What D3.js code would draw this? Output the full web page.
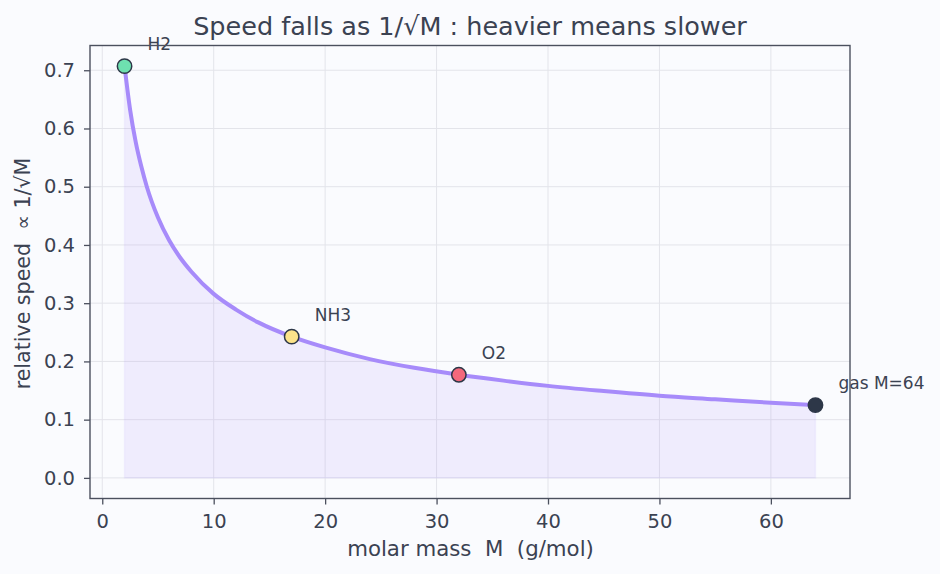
<!DOCTYPE html>
<html><head><meta charset="utf-8">
<script src="https://cdn.jsdelivr.net/npm/d3@7"></script>
<style>body{margin:0;background:#fafbfe;}svg{display:block;font-family:"DejaVu Sans",sans-serif;}text{white-space:pre;}</style>
</head><body><svg id="c" width="940" height="574"></svg>
<script>
// curve samples: molar mass vs relative speed
const curveM = [2, 2.5, 3, 3.5, 4, 5, 6, 7, 8, 10, 12, 14, 17, 20, 24, 28, 32, 36, 40, 45, 50, 55, 60, 64];
const curveV = [0.707, 0.632, 0.577, 0.535, 0.5, 0.447, 0.408, 0.378, 0.354, 0.316, 0.289, 0.267, 0.2425, 0.224, 0.204, 0.189, 0.177, 0.167, 0.158, 0.149, 0.141, 0.135, 0.129, 0.125];
// labelled gases
const gasNames = ["H2", "NH3", "O2", "gas M=64"];
const gasM = [2, 17, 32, 64];
const gasV = [0.707, 0.2425, 0.177, 0.125];
const gasColors = ["#6ee0b0", "#fce38a", "#f3687c", "#2d3748"];
const xTicks = [0, 10, 20, 30, 40, 50, 60];
const yTicks = [0.0, 0.1, 0.2, 0.3, 0.4, 0.5, 0.6, 0.7];

const svg = d3.select("#c");
const L = 90, R = 850, T = 45.5, B = 498.5;
const x = d3.scaleLinear().domain([-1.1, 67.1]).range([L, R]);
const y = d3.scaleLinear().domain([-0.0354, 0.7425]).range([B, T]);
const ink = "#3b4252";

// grid
const g = svg.append("g");
g.selectAll(".gx").data(xTicks).join("line")
  .attr("x1", d => x(d)).attr("x2", d => x(d)).attr("y1", T).attr("y2", B)
  .attr("stroke", "#e3e4ea").attr("stroke-width", 1);
g.selectAll(".gy").data(yTicks).join("line")
  .attr("y1", d => y(d)).attr("y2", d => y(d)).attr("x1", L).attr("x2", R)
  .attr("stroke", "#e3e4ea").attr("stroke-width", 1);

const pts = curveM.map((m, i) => [m, curveV[i]]);
// area
svg.append("path").datum(pts)
  .attr("d", d3.area().x(d => x(d[0])).y0(y(0)).y1(d => y(d[1])).curve(d3.curveMonotoneX))
  .attr("fill", "#a78bfa").attr("fill-opacity", 0.13)
  .attr("stroke", "#a78bfa").attr("stroke-opacity", 0.08).attr("stroke-width", 1.5);
// line
svg.append("path").datum(pts)
  .attr("d", d3.line().x(d => x(d[0])).y(d => y(d[1])).curve(d3.curveMonotoneX))
  .attr("fill", "none").attr("stroke", "#a78bfa").attr("stroke-width", 4);

// points
svg.selectAll(".pt").data(gasNames).join("circle")
  .attr("cx", (d, i) => x(gasM[i])).attr("cy", (d, i) => y(gasV[i])).attr("r", 7.2)
  .attr("fill", (d, i) => gasColors[i]).attr("stroke", "#2d3748").attr("stroke-width", 1.5);
svg.selectAll(".lb").data(gasNames).join("text")
  .attr("x", (d, i) => x(gasM[i]) + 23).attr("y", (d, i) => y(gasV[i]) - 16)
  .attr("font-size", 17).attr("fill", ink).text(d => d);

// frame
svg.append("rect").attr("x", L).attr("y", T).attr("width", R - L).attr("height", B - T)
  .attr("fill", "none").attr("stroke", "#4b505e").attr("stroke-width", 1.4);

// axes
const xa = svg.append("g").attr("transform", `translate(0,${B})`)
  .call(d3.axisBottom(x).tickValues(xTicks).tickFormat(d3.format("d")).tickSize(6).tickPadding(10));
const ya = svg.append("g").attr("transform", `translate(${L},0)`)
  .call(d3.axisLeft(y).tickValues(yTicks).tickFormat(d3.format(".1f")).tickSize(6).tickPadding(9));
[xa, ya].forEach(a => {
  a.select(".domain").remove();
  a.selectAll("line").attr("stroke", "#4b505e").attr("stroke-width", 1.3);
  a.selectAll("text").attr("font-size", 19.5).attr("fill", ink).attr("font-family", "DejaVu Sans");
});

svg.append("text").attr("x", 470).attr("y", 35).attr("text-anchor", "middle")
  .attr("font-size", 25.5).attr("fill", ink).text("Speed falls as 1/√M : heavier means slower");
svg.append("text").attr("x", 470.5).attr("y", 556).attr("text-anchor", "middle")
  .attr("font-size", 21.3).attr("fill", ink).text("molar mass  M  (g/mol)");
svg.append("text").attr("transform", "translate(30,273.5) rotate(-90)").attr("text-anchor", "middle")
  .attr("font-size", 20.6).attr("fill", ink).text("relative speed  ∝ 1/√M");
</script></body></html>
